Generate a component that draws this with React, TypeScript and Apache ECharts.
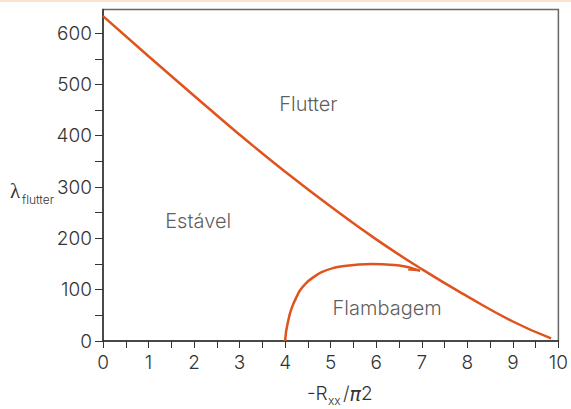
import React, { useEffect, useRef } from 'react';
import * as echarts from 'echarts';

// Flutter boundary (x = -Rxx/π2, y = λ_flutter)
const flutterX = [0, 1, 2, 3, 4, 5, 6, 7, 8, 9, 9.84];
const flutterY = [633, 555, 478, 402, 330, 262, 198, 140, 87, 38, 5];

// Buckling (Flambagem) boundary
const bucklingX = [4.0, 4.02, 4.05, 4.1, 4.16, 4.24, 4.32, 4.45, 4.6, 4.8, 5.05, 5.3, 5.62, 5.9, 6.13, 6.4, 6.63, 6.8, 6.96];
const bucklingY = [0, 18, 32, 52, 68, 84, 98, 112, 123, 134, 142, 146, 149, 150, 149.5, 148, 145, 141.5, 137];

// little hook at the end of the buckling curve
const hookX = [6.96, 6.7];
const hookY = [137, 139];

// region labels (data coordinates)
const regionNames = ['Flutter', 'Estável', 'Flambagem'];
const regionX = [4.51, 2.09, 6.24];
const regionY = [462, 234, 64];

const xMin = 0;
const xMax = 10;
const xInterval = 1;
const yFrameMax = 646;
const yTickMax = 600;
const yInterval = 100;

const ORANGE = '#e0531d';
const TEXT = '#333';
const FONT = 'Inter, "Open Sans", sans-serif';

export default function App() {
  const ref = useRef<HTMLDivElement>(null);
  useEffect(() => {
    document.body.style.margin = '0';
    const chart = echarts.init(ref.current!, undefined, { renderer: 'svg' });
    const W = 571, H = 409;
    const left = 103, right = 4.5, top = 9.5, bottom = 68;
    const plotH = H - top - bottom;
    const top2 = H - bottom - (yTickMax / yFrameMax) * plotH;

    chart.setOption({
      animation: false,
      backgroundColor: '#fff',
      textStyle: { fontFamily: FONT, color: TEXT },
      grid: [
        { left, right, top, bottom, show: true, borderColor: '#666', borderWidth: 1.5, backgroundColor: 'transparent' },
        { left, right, top: top2, bottom, show: false },
      ],
      xAxis: [
        {
          gridIndex: 0, type: 'value', min: xMin, max: xMax, interval: xInterval,
          axisLine: { show: true, onZero: false, lineStyle: { color: TEXT, width: 1.5 } },
          axisTick: { show: true, inside: false, length: 7, lineStyle: { color: TEXT, width: 1 } },
          minorTick: { show: true, splitNumber: 2, length: 7, lineStyle: { color: TEXT, width: 1 } },
          axisLabel: { fontSize: 19, color: TEXT, margin: 12, fontFamily: FONT, fontWeight: 300 },
          splitLine: { show: false },
        },
        { gridIndex: 1, type: 'value', min: xMin, max: xMax, show: false },
      ],
      yAxis: [
        {
          gridIndex: 0, type: 'value', min: 0, max: yFrameMax,
          axisLine: { show: true, lineStyle: { color: TEXT, width: 1.5 } },
          axisTick: { show: false }, axisLabel: { show: false }, splitLine: { show: false },
        },
        {
          gridIndex: 1, type: 'value', min: 0, max: yTickMax, interval: yInterval,
          axisLine: { show: false },
          axisTick: { show: true, inside: false, length: 8, lineStyle: { color: TEXT, width: 1 } },
          minorTick: { show: true, splitNumber: 2, length: 8, lineStyle: { color: TEXT, width: 1 } },
          axisLabel: { fontSize: 19, color: TEXT, margin: 11, fontFamily: FONT, fontWeight: 300 },
          splitLine: { show: false },
        },
      ],
      series: [
        {
          type: 'line', xAxisIndex: 0, yAxisIndex: 0, showSymbol: false, smooth: true,
          data: flutterX.map((x, i) => [x, flutterY[i]]),
          lineStyle: { color: ORANGE, width: 2.5 }, itemStyle: { color: ORANGE },
        },
        {
          type: 'line', xAxisIndex: 0, yAxisIndex: 0, showSymbol: false, smooth: 0.3,
          data: bucklingX.map((x, i) => [x, bucklingY[i]]),
          lineStyle: { color: ORANGE, width: 2.5 }, itemStyle: { color: ORANGE },
        },
        {
          type: 'line', xAxisIndex: 0, yAxisIndex: 0, showSymbol: false,
          data: hookX.map((x, i) => [x, hookY[i]]),
          lineStyle: { color: ORANGE, width: 1.8 }, itemStyle: { color: ORANGE },
        },
        {
          type: 'scatter', xAxisIndex: 0, yAxisIndex: 0, symbolSize: 0,
          data: regionNames.map((n, i) => ({ name: n, value: [regionX[i], regionY[i]] })),
          label: {
            show: true, position: 'inside', formatter: '{b}',
            fontSize: 20, color: TEXT, fontFamily: FONT, fontWeight: 300,
          },
        },
      ],
      graphic: [
        { type: 'rect', left: 0, top: 0, shape: { width: W, height: 2 }, style: { fill: '#fde3cf' }, silent: true },
        { type: 'text', left: 10, top: 180, style: { text: 'λ', fontSize: 21, fill: TEXT, fontFamily: '"Liberation Serif", serif' } },
        { type: 'text', left: 22, top: 193, style: { text: 'flutter', fontSize: 12, fill: TEXT, fontFamily: FONT, fontWeight: 300 } },
        { type: 'text', left: 307, top: 384, style: { text: '-R', fontSize: 19, fill: TEXT, fontFamily: FONT, fontWeight: 300 } },
        { type: 'text', left: 328, top: 394, style: { text: 'xx', fontSize: 12, fill: TEXT, fontFamily: FONT, fontWeight: 300 } },
        {
          type: 'text', left: 343, top: 384,
          style: {
            text: '{a|/}{p|π}{a|2}', fontSize: 19, fill: TEXT, fontFamily: FONT,
            rich: {
              a: { fontSize: 19, fill: TEXT, fontFamily: FONT, fontWeight: 300 },
              p: { fontSize: 19, fill: TEXT, fontStyle: 'italic', fontFamily: '"DejaVu Sans", sans-serif' },
            },
          },
        },
      ],
    });
    return () => chart.dispose();
  }, []);
  return <div ref={ref} style={{ width: 571, height: 409 }} />;
}
